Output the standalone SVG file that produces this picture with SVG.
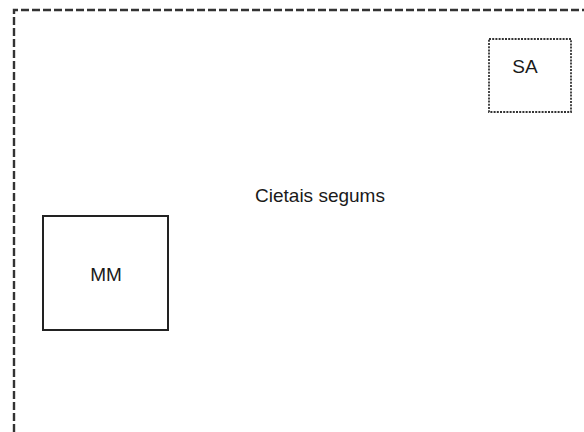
<svg xmlns="http://www.w3.org/2000/svg" width="584" height="432" viewBox="0 0 584 432">
<style>
.lbl{font-family:"Liberation Sans",Arial,sans-serif;font-size:19px;fill:#1a1a1a;text-anchor:middle}
.outer{fill:none;stroke:#333;stroke-width:2.4;stroke-dasharray:8 3}
</style>
<rect width="584" height="432" fill="#fff"/>
<g id="cietais-segums">
<path class="outer" d="M14,432 V10 H584"/>
<text class="lbl" x="320" y="202">Cietais segums</text>
</g>
<g id="SA">
<rect x="489" y="39" width="82" height="73" fill="none" stroke="#333" stroke-width="1.8" stroke-dasharray="2 1.2"/>
<text class="lbl" x="525" y="73">SA</text>
</g>
<g id="MM">
<rect x="43" y="216" width="125" height="114" fill="none" stroke="#222" stroke-width="2"/>
<text class="lbl" x="106" y="281">MM</text>
</g>
<g id="connectors"></g>
</svg>
